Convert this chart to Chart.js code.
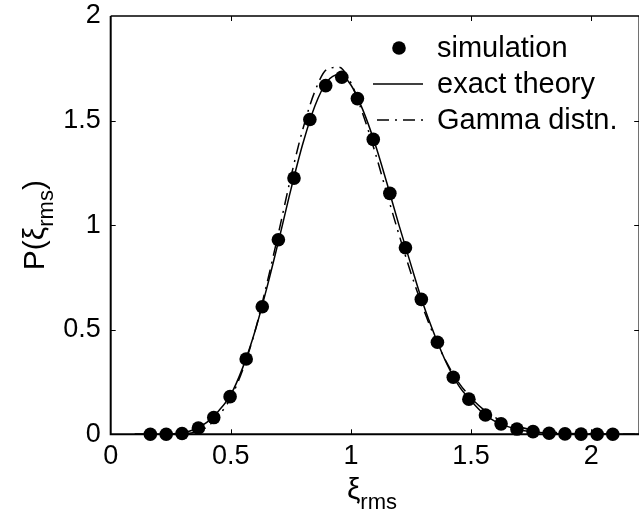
<!DOCTYPE html>
<html>
<head>
<meta charset="utf-8">
<script src="https://cdn.jsdelivr.net/npm/chart.js@4.4.1/dist/chart.umd.min.js"></script>
<style>
  html, body { margin: 0; padding: 0; background: #fff; overflow: hidden; }
  #wrap { width: 646px; height: 519px; }
</style>
</head>
<body>
<div id="wrap"><canvas id="pdfChart" width="646" height="519"></canvas></div>
<script>
// simulation points
const simX = [0.165, 0.231, 0.297, 0.365, 0.429, 0.497, 0.564, 0.631, 0.698, 0.763,
              0.829, 0.895, 0.962, 1.027, 1.093, 1.162, 1.227, 1.293, 1.360, 1.426,
              1.491, 1.560, 1.625, 1.691, 1.758, 1.825, 1.891, 1.958, 2.025, 2.090];
const simY = [0, 0, 0.004, 0.03, 0.08, 0.18, 0.36, 0.61, 0.93, 1.225,
              1.505, 1.667, 1.707, 1.605, 1.41, 1.152, 0.892, 0.645, 0.44, 0.273,
              0.168, 0.092, 0.05, 0.025, 0.013, 0.005, 0.002, 0.001, 0, 0];

// exact theory curve
const theoryX = [0.10, 0.15, 0.20, 0.25, 0.30, 0.35, 0.40, 0.45, 0.50, 0.55,
                 0.60, 0.65, 0.70, 0.75, 0.80, 0.85, 0.90, 0.95, 1.00, 1.05,
                 1.10, 1.15, 1.20, 1.25, 1.30, 1.35, 1.40, 1.45, 1.50, 1.55,
                 1.60, 1.65, 1.70, 1.75, 1.80, 1.85, 1.90, 1.95, 2.00, 2.10, 2.20];
const theoryY = [0, 0, 0.0005, 0.002, 0.007, 0.024, 0.057, 0.113, 0.19, 0.32,
                 0.49, 0.70, 0.93, 1.17, 1.39, 1.57, 1.685, 1.72, 1.67, 1.55,
                 1.39, 1.20, 1.00, 0.81, 0.625, 0.47, 0.335, 0.23, 0.16, 0.10,
                 0.062, 0.038, 0.022, 0.013, 0.008, 0.004, 0.002, 0.001, 0.0005, 0, 0];

// gamma distribution curve
const gammaX = theoryX;
const gammaY = [0, 0, 0, 0.0005, 0.002, 0.01, 0.035, 0.09, 0.175, 0.31,
                0.49, 0.72, 0.97, 1.23, 1.46, 1.64, 1.745, 1.755, 1.68, 1.53,
                1.35, 1.15, 0.955, 0.77, 0.605, 0.46, 0.34, 0.245, 0.175, 0.12,
                0.081, 0.054, 0.035, 0.022, 0.014, 0.009, 0.005, 0.003, 0.002, 0.001, 0];

const xTicks = [0, 0.5, 1, 1.5, 2];
const yTicks = [0, 0.5, 1, 1.5, 2];
const legendLabels = ['simulation', 'exact theory', 'Gamma distn.'];

const FONT = 'Liberation Sans, Arial, Helvetica, sans-serif';

function toPoints(xs, ys) {
    return xs.map((x, i) => ({ x: x, y: ys[i] }));
}

// frame, inward ticks, axis titles and the legend
const decorations = {
    id: 'decorations',
    afterDraw(chart) {
        const ctx = chart.ctx;
        const a = chart.chartArea;
        const xs = chart.scales.x;
        const ys = chart.scales.y;
        ctx.save();
        ctx.strokeStyle = '#000';
        ctx.fillStyle = '#000';

        // box
        ctx.lineWidth = 2;
        ctx.beginPath();
        ctx.moveTo(a.left, a.top);
        ctx.lineTo(a.left, a.bottom);
        ctx.lineTo(a.right, a.bottom);
        ctx.stroke();
        ctx.lineWidth = 1.5;
        ctx.beginPath();
        ctx.moveTo(a.left, a.top);
        ctx.lineTo(a.right, a.top);
        ctx.lineTo(a.right, a.bottom);
        ctx.stroke();

        // ticks pointing inwards
        ctx.lineWidth = 1;
        const tl = 5;
        xTicks.slice(1).forEach(v => {
            const px = Math.round(xs.getPixelForValue(v)) + 0.5;
            ctx.beginPath();
            ctx.moveTo(px, a.bottom); ctx.lineTo(px, a.bottom - tl);
            ctx.moveTo(px, a.top); ctx.lineTo(px, a.top + tl);
            ctx.stroke();
        });
        yTicks.slice(1, -1).forEach(v => {
            const py = Math.round(ys.getPixelForValue(v)) + 0.5;
            ctx.beginPath();
            ctx.moveTo(a.left, py); ctx.lineTo(a.left + tl, py);
            ctx.moveTo(a.right, py); ctx.lineTo(a.right - tl, py);
            ctx.stroke();
        });

        // x axis title: xi_rms
        const cx = (a.left + a.right) / 2 - 3;
        ctx.textBaseline = 'alphabetic';
        ctx.textAlign = 'left';
        ctx.font = '30px ' + FONT;
        const wXi = ctx.measureText('ξ').width;
        ctx.font = '22px ' + FONT;
        const wSub = ctx.measureText('rms').width;
        const x0 = cx - (wXi + wSub) / 2;
        ctx.font = '30px ' + FONT;
        ctx.fillText('ξ', x0, 499);
        ctx.font = '22px ' + FONT;
        ctx.fillText('rms', x0 + wXi, 509);

        // y axis title: P(xi_rms)
        ctx.save();
        ctx.translate(44, (a.top + a.bottom) / 2);
        ctx.rotate(-Math.PI / 2);
        ctx.font = '30px ' + FONT;
        const wP = ctx.measureText('P(').width;
        const wClose = ctx.measureText(')').width;
        const total = wP + wXi + wSub + wClose;
        let tx = -total / 2;
        ctx.fillText('P(', tx, 0); tx += wP;
        ctx.fillText('ξ', tx, 0); tx += wXi;
        ctx.font = '22px ' + FONT;
        ctx.fillText('rms', tx, 9); tx += wSub;
        ctx.font = '30px ' + FONT;
        ctx.fillText(')', tx, 0);
        ctx.restore();

        // legend
        const rows = [48, 84, 120];
        const sampleL = 373, sampleR = 423, textX = 437;
        ctx.font = '29px ' + FONT;
        ctx.textBaseline = 'middle';
        chart.data.datasets.forEach((ds, i) => {
            const y = rows[i];
            ctx.setLineDash([]);
            if (ds.showLine === false) {
                ctx.beginPath();
                ctx.arc((sampleL + sampleR) / 2 + 1, y, ds.pointRadius, 0, Math.PI * 2);
                ctx.fill();
            } else {
                ctx.lineWidth = ds.borderWidth;
                ctx.setLineDash(ds.borderDash || []);
                ctx.lineDashOffset = -4;
                ctx.beginPath();
                ctx.moveTo(sampleL, y); ctx.lineTo(sampleR, y);
                ctx.stroke();
                ctx.setLineDash([]);
            }
            ctx.fillText(legendLabels[i], textX, y + 1);
        });
        ctx.restore();
    }
};

const noPad = s => {
    s.paddingTop = 0; s.paddingBottom = 0; s.paddingLeft = 0; s.paddingRight = 0;
};

new Chart(document.getElementById('pdfChart').getContext('2d'), {
    type: 'scatter',
    data: {
        datasets: [{
            label: legendLabels[0],
            data: toPoints(simX, simY),
            showLine: false,
            pointRadius: 6.8,
            pointBackgroundColor: '#000',
            pointBorderWidth: 0,
            clip: false
        }, {
            label: legendLabels[1],
            data: toPoints(theoryX, theoryY),
            showLine: true,
            borderColor: '#000',
            borderWidth: 1.5,
            pointRadius: 0,
            cubicInterpolationMode: 'monotone',
            clip: false
        }, {
            label: legendLabels[2],
            data: toPoints(gammaX, gammaY),
            showLine: true,
            borderColor: '#000',
            borderWidth: 1.5,
            borderDash: [12, 6, 2, 6],
            pointRadius: 0,
            cubicInterpolationMode: 'monotone',
            clip: false
        }]
    },
    options: {
        responsive: false,
        animation: false,
        devicePixelRatio: 1,
        layout: { padding: { top: 16, right: 4.4, left: 0, bottom: 0 } },
        plugins: {
            legend: { display: false },
            tooltip: { enabled: false }
        },
        scales: {
            x: {
                type: 'linear',
                min: 0,
                max: 2.2,
                grid: { display: false, drawTicks: false },
                border: { display: false },
                ticks: {
                    color: '#000',
                    font: { family: FONT, size: 27 },
                    padding: 6,
                    maxRotation: 0,
                    autoSkip: false,
                    callback: v => String(v)
                },
                afterBuildTicks: s => { s.ticks = xTicks.map(v => ({ value: v })); },
                afterFit: s => { s.height = 84.7; noPad(s); }
            },
            y: {
                type: 'linear',
                min: 0,
                max: 2,
                grid: { display: false, drawTicks: false },
                border: { display: false },
                ticks: {
                    color: '#000',
                    font: { family: FONT, size: 27 },
                    padding: 10,
                    autoSkip: false,
                    callback: v => String(v)
                },
                afterBuildTicks: s => { s.ticks = yTicks.map(v => ({ value: v })); },
                afterFit: s => { s.width = 110.7; noPad(s); }
            }
        }
    },
    plugins: [decorations]
});
</script>
</body>
</html>
